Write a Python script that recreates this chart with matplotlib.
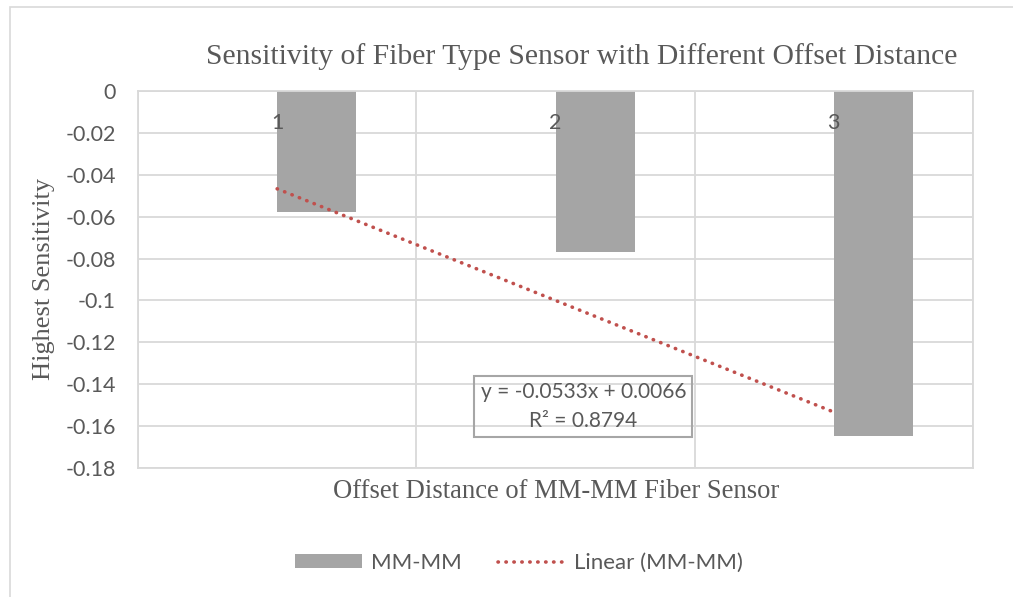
import matplotlib
matplotlib.use("Agg")
import matplotlib.pyplot as plt
import numpy as np
from matplotlib.lines import Line2D
from matplotlib.patches import Patch, Rectangle

categories = ["1", "2", "3"]
values = [-0.058, -0.077, -0.1645]
trend_coef = [-0.0533, 0.0066]  # slope, intercept
r_squared = 0.8794
yticks = [0, -0.02, -0.04, -0.06, -0.08, -0.1, -0.12, -0.14, -0.16, -0.18]
ytick_labels = ["0", "-0.02", "-0.04", "-0.06", "-0.08", "-0.1", "-0.12", "-0.14", "-0.16", "-0.18"]

title = "Sensitivity of Fiber Type Sensor with Different Offset Distance"
xlabel = "Offset Distance of MM-MM Fiber Sensor"
ylabel = "Highest Sensitivity"
series_name = "MM-MM"
trend_name = "Linear (MM-MM)"

TXT = "#595959"
GRID = "#D9D9D9"
BAR = "#A5A5A5"
RED = "#C0504D"
SANS = ["Lato", "DejaVu Sans"]
SERIF = ["Liberation Serif", "DejaVu Serif"]
DOTS = (0, (0.1, 2.1))
DOT_LW = 2.6

fig = plt.figure(figsize=(10.13, 5.97), dpi=100)
fig.patches.append(Rectangle((10/1013, -0.1), 1.2, 1 - 7/597 + 0.1, transform=fig.transFigure,
                             fill=False, edgecolor=GRID, linewidth=1.2))
ax = fig.add_axes([138/1013, 1 - 468/597, (973-138)/1013, (468-91)/597])

x = np.arange(len(categories))
ax.bar(x, values, width=0.285, align="edge", color=BAR, zorder=2)

xs = np.array([1, len(categories)], dtype=float)
ys = trend_coef[0] * xs + trend_coef[1]
ax.plot(xs - 1, ys, linestyle=DOTS, color=RED, linewidth=DOT_LW,
        dash_capstyle="round", zorder=3)

ax.set_xlim(-0.5, len(categories) - 0.5)
ax.set_ylim(-0.18, 0)
ax.set_yticks(yticks)
ax.set_yticklabels(ytick_labels, family=SANS, fontsize=15.5, color=TXT)
ax.tick_params(axis="y", length=0, pad=16)
ax.set_xticks(np.arange(len(categories) + 1) - 0.5)
ax.set_xticklabels([])
ax.tick_params(axis="x", length=0)
ax.grid(True, color=GRID, linewidth=1.3, zorder=0)
ax.set_axisbelow(True)
for s in ax.spines.values():
    s.set_color(GRID)
    s.set_linewidth(1.3)

for i, c in enumerate(categories):
    ax.text(i, -0.0155, c, ha="center", va="center", family=SANS, fontsize=15.5, color=TXT, zorder=4)

eq = f"y = {trend_coef[0]:.4f}x + {trend_coef[1]:.4f}\nR² = {r_squared:.4f}"
ax.text(1.1, -0.1506, eq, ha="center", va="center", family=SANS, fontsize=15, color=TXT, linespacing=1.55,
        bbox=dict(boxstyle="square,pad=0.3", fill=False, edgecolor="#A6A6A6", linewidth=1.5), zorder=4)

fig.text(582/1013, 1 - 57/597, title, ha="center", va="center", family=SERIF, fontsize=21.3, color=TXT)
fig.text(556/1013, 1 - 491/597, xlabel, ha="center", va="center", family=SERIF, fontsize=19.2, color=TXT)
fig.text(44/1013, 1 - 279/597, ylabel, ha="center", va="center", rotation=90, family=SERIF, fontsize=19, color=TXT)

handles = [Patch(facecolor=BAR, edgecolor="none"),
           Line2D([0], [0], linestyle=DOTS, color=RED, linewidth=DOT_LW, dash_capstyle="round")]
leg = fig.legend(handles, [series_name, trend_name], loc="center", bbox_to_anchor=(519/1013, 1 - 563/597),
                 ncol=2, frameon=False, prop={"family": SANS, "size": 16}, handlelength=3.0,
                 handleheight=0.6, columnspacing=1.65, handletextpad=0.4)
for t in leg.get_texts():
    t.set_color(TXT)

fig.savefig("out.png", dpi=100)
